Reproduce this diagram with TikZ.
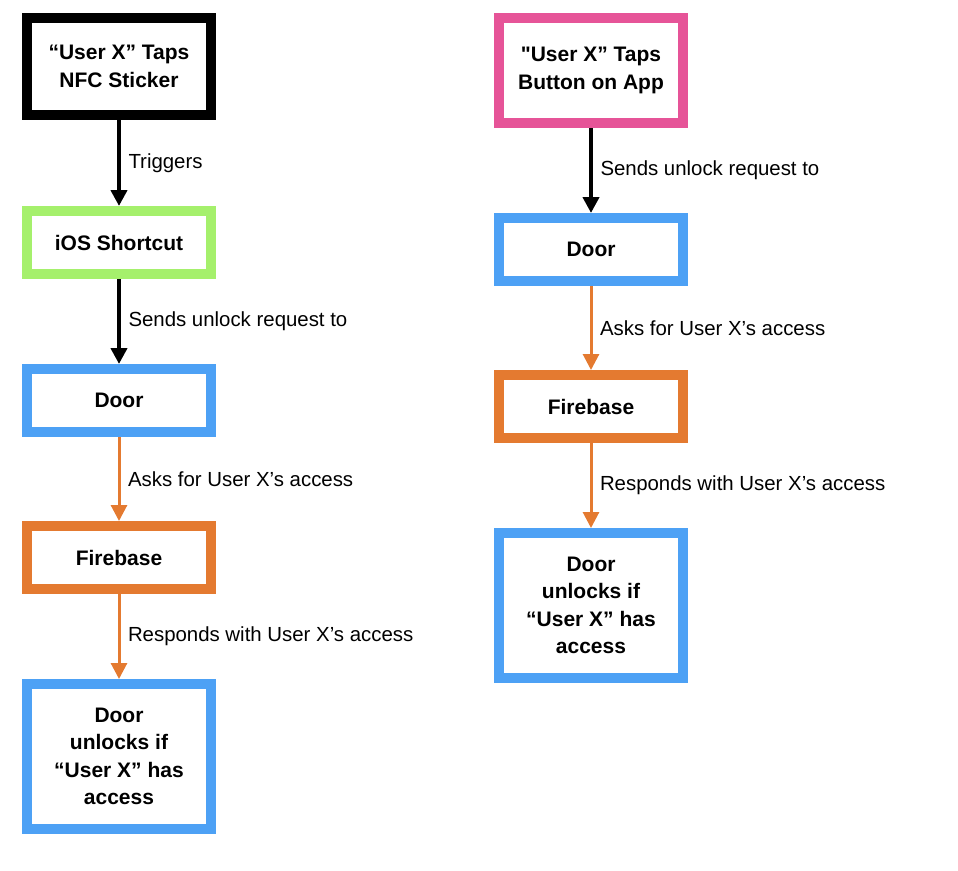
\documentclass[tikz,border=0pt]{standalone}
\usepackage{fontspec}
\setmainfont{Liberation Sans}[Ligatures=TeXOff]
\usepackage{xcolor}
\usetikzlibrary{
    arrows.meta,
    positioning
}
\definecolor{doorblue}{RGB}{77,161,245}
\definecolor{fireorange}{RGB}{228,122,48}
\definecolor{shortgreen}{RGB}{165,240,108}
\definecolor{apppink}{RGB}{230,84,152}
\tikzset{
    box/.style={draw=#1, line width=10pt, minimum width=184pt, minimum height=63pt,
        inner sep=0pt, align=center, font=\fontsize{21}{27.5}\selectfont\bfseries},
    flow/.style={draw=#1, line width=4pt, ->},
    flowthin/.style={draw=#1, line width=3pt, ->},
    lbl/.style={right=7.5pt, inner sep=0pt, text=black, font=\fontsize{20.4}{24}\selectfont}
}

\begin{document}
\begin{tikzpicture}[x=1pt, y=-1pt, >={Triangle[length=16pt, width=16pt]}]
                        \useasboundingbox (0, 0) rectangle (958, 870);

                        \begin{scope}
                            \node[box=black, minimum height=97pt] (nfc) at (119, 66.5) {“User X” Taps\\NFC Sticker};
                            \node[box=shortgreen] (shortcut) at (119, 242.5) {iOS Shortcut};
                            \node[box=doorblue] (doorL) at (119, 400.5) {Door};
                            \node[box=fireorange] (fireL) at (119, 557.5) {Firebase};
                            \node[box=doorblue, minimum height=145pt] (unlockL) at (119, 756.5) {Door\\unlocks if\\“User X” has\\access};

                            \draw
                            (nfc) edge[flow=black] node[lbl] {Triggers} (shortcut)
                            (shortcut) edge[flow=black] node[lbl] {Sends unlock request to} (doorL)
                            (doorL) edge[flowthin=fireorange] node[lbl] {Asks for User X’s access} (fireL)
                            (fireL) edge[flowthin=fireorange] node[lbl] {Responds with User X’s access} (unlockL);
                        \end{scope}

                        \begin{scope}
                            \node[box=apppink, minimum height=105pt] (app) at (591, 70.5) {"User X” Taps\\Button on App};
                            \node[box=doorblue] (doorR) at (591, 249.5) {Door};
                            \node[box=fireorange] (fireR) at (591, 406.5) {Firebase};
                            \node[box=doorblue, minimum height=145pt] (unlockR) at (591, 605.5) {Door\\unlocks if\\“User X” has\\access};

                            \draw
                            (app) edge[flow=black] node[lbl] {Sends unlock request to} (doorR)
                            (doorR) edge[flowthin=fireorange] node[lbl] {Asks for User X’s access} (fireR)
                            (fireR) edge[flowthin=fireorange] node[lbl] {Responds with User X’s access} (unlockR);
                        \end{scope}
                    \end{tikzpicture}
\end{document}
